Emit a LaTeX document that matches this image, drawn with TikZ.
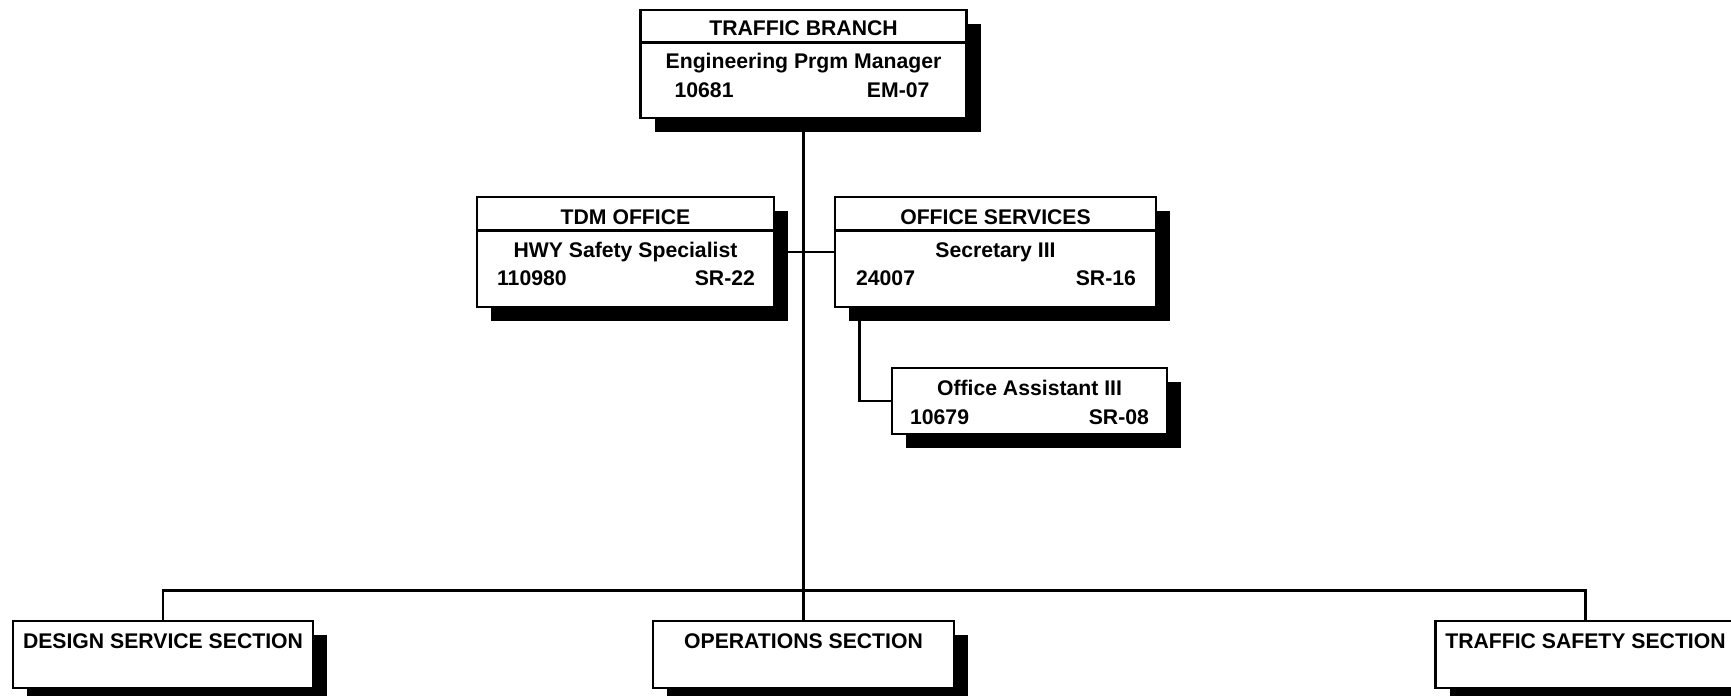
\documentclass[tikz,border=0pt]{standalone}
\usepackage{fontspec}
\setmainfont{Liberation Sans}
\usetikzlibrary{positioning,calc,shadows,backgrounds}

\tikzset{
  unitbox/.style={draw, line width=1.3pt, fill=white, inner sep=0pt,
    drop shadow={shadow xshift=7pt, shadow yshift=-7pt, opacity=1, fill=black}},
  rule/.style={line width=1.3pt},
  wire/.style={line width=1.3pt},
  boxtext/.style={font=\fontsize{10.6}{12}\selectfont\bfseries, inner sep=0pt, anchor=base},
}

\begin{document}
\begin{tikzpicture}[x=0.5pt, y=-0.5pt]
    \useasboundingbox (0,0) rectangle (1731,696);
    \clip (0,0) rectangle (1731,696);
    % Branch head
    \node[unitbox, minimum width=163pt, minimum height=54pt] (branch) at (803.5,64) {};
    \draw[rule] ($(branch.north west)+(0,34)$) -- ($(branch.north east)+(0,34)$);
    \node[boxtext] (branchtitle) at ($(branch.north)+(0,27)$) {TRAFFIC BRANCH};
    \node[boxtext] (branchjob) at ($(branch.north)+(0,60)$) {Engineering Prgm Manager};
    \node[boxtext, anchor=base west] (branchnum) at ($(branch.north west)+(35,89)$) {10681};
    \node[boxtext, anchor=base east] (branchgrade) at ($(branch.north east)+(-38,89)$) {EM-07};
    % TDM office
    \node[unitbox, minimum width=148.5pt, minimum height=55pt] (tdm) at (625.5,252) {};
    \draw[rule] ($(tdm.north west)+(0,35)$) -- ($(tdm.north east)+(0,35)$);
    \node[boxtext] (tdmtitle) at ($(tdm.north)+(0,28.5)$) {TDM OFFICE};
    \node[boxtext] (tdmjob) at ($(tdm.north)+(0,62)$) {HWY Safety Specialist};
    \node[boxtext, anchor=base west] (tdmnum) at ($(tdm.north west)+(21,89.5)$) {110980};
    \node[boxtext, anchor=base east] (tdmgrade) at ($(tdm.north east)+(-20,89.5)$) {SR-22};
    % Office services
    \node[unitbox, minimum width=160.5pt, minimum height=55pt] (offsvc) at (995.5,252) {};
    \draw[rule] ($(offsvc.north west)+(0,35)$) -- ($(offsvc.north east)+(0,35)$);
    \node[boxtext] (offsvctitle) at ($(offsvc.north)+(0,28.5)$) {OFFICE SERVICES};
    \node[boxtext] (offsvcjob) at ($(offsvc.north)+(0,62)$) {Secretary III};
    \node[boxtext, anchor=base west] (offsvcnum) at ($(offsvc.north west)+(22,89.5)$) {24007};
    \node[boxtext, anchor=base east] (offsvcgrade) at ($(offsvc.north east)+(-21,89.5)$) {SR-16};
    % Office assistant
    \node[unitbox, minimum width=137.5pt, minimum height=33pt] (asst) at (1029.5,401) {};
    \node[boxtext] (asstjob) at ($(asst.north)+(0,29)$) {Office Assistant III};
    \node[boxtext, anchor=base west] (asstnum) at ($(asst.north west)+(19,57.5)$) {10679};
    \node[boxtext, anchor=base east] (asstgrade) at ($(asst.north east)+(-19,57.5)$) {SR-08};
    % Sections
    \node[unitbox, minimum width=150pt, minimum height=33.5pt] (design) at (163,654.5) {};
    \node[boxtext] (designtitle) at ($(design.north)+(0,28.5)$) {DESIGN SERVICE SECTION};
    \node[unitbox, minimum width=150.5pt, minimum height=33.5pt] (ops) at (803.5,654.5) {};
    \node[boxtext] (opstitle) at ($(ops.north)+(0,28.5)$) {OPERATIONS SECTION};
    \node[unitbox, minimum width=150pt, minimum height=33.5pt] (safety) at (1585.5,654.5) {};
    \node[boxtext] (safetytitle) at ($(safety.north)+(0,28.5)$) {TRAFFIC SAFETY SECTION};
    % Connectors
    \begin{scope}[on background layer]
        \draw[wire] (branch.south) -- (branch.south |- ops.north);
        \draw[wire] (tdm.east) -- (offsvc.west);
        \draw[wire] ($(offsvc.south west)+(26,0)$) |- (asst.west);
        \draw[wire] (design.north) -- ++(0,-29) -| (safety.north);
    \end{scope}
\end{tikzpicture}
\end{document}
